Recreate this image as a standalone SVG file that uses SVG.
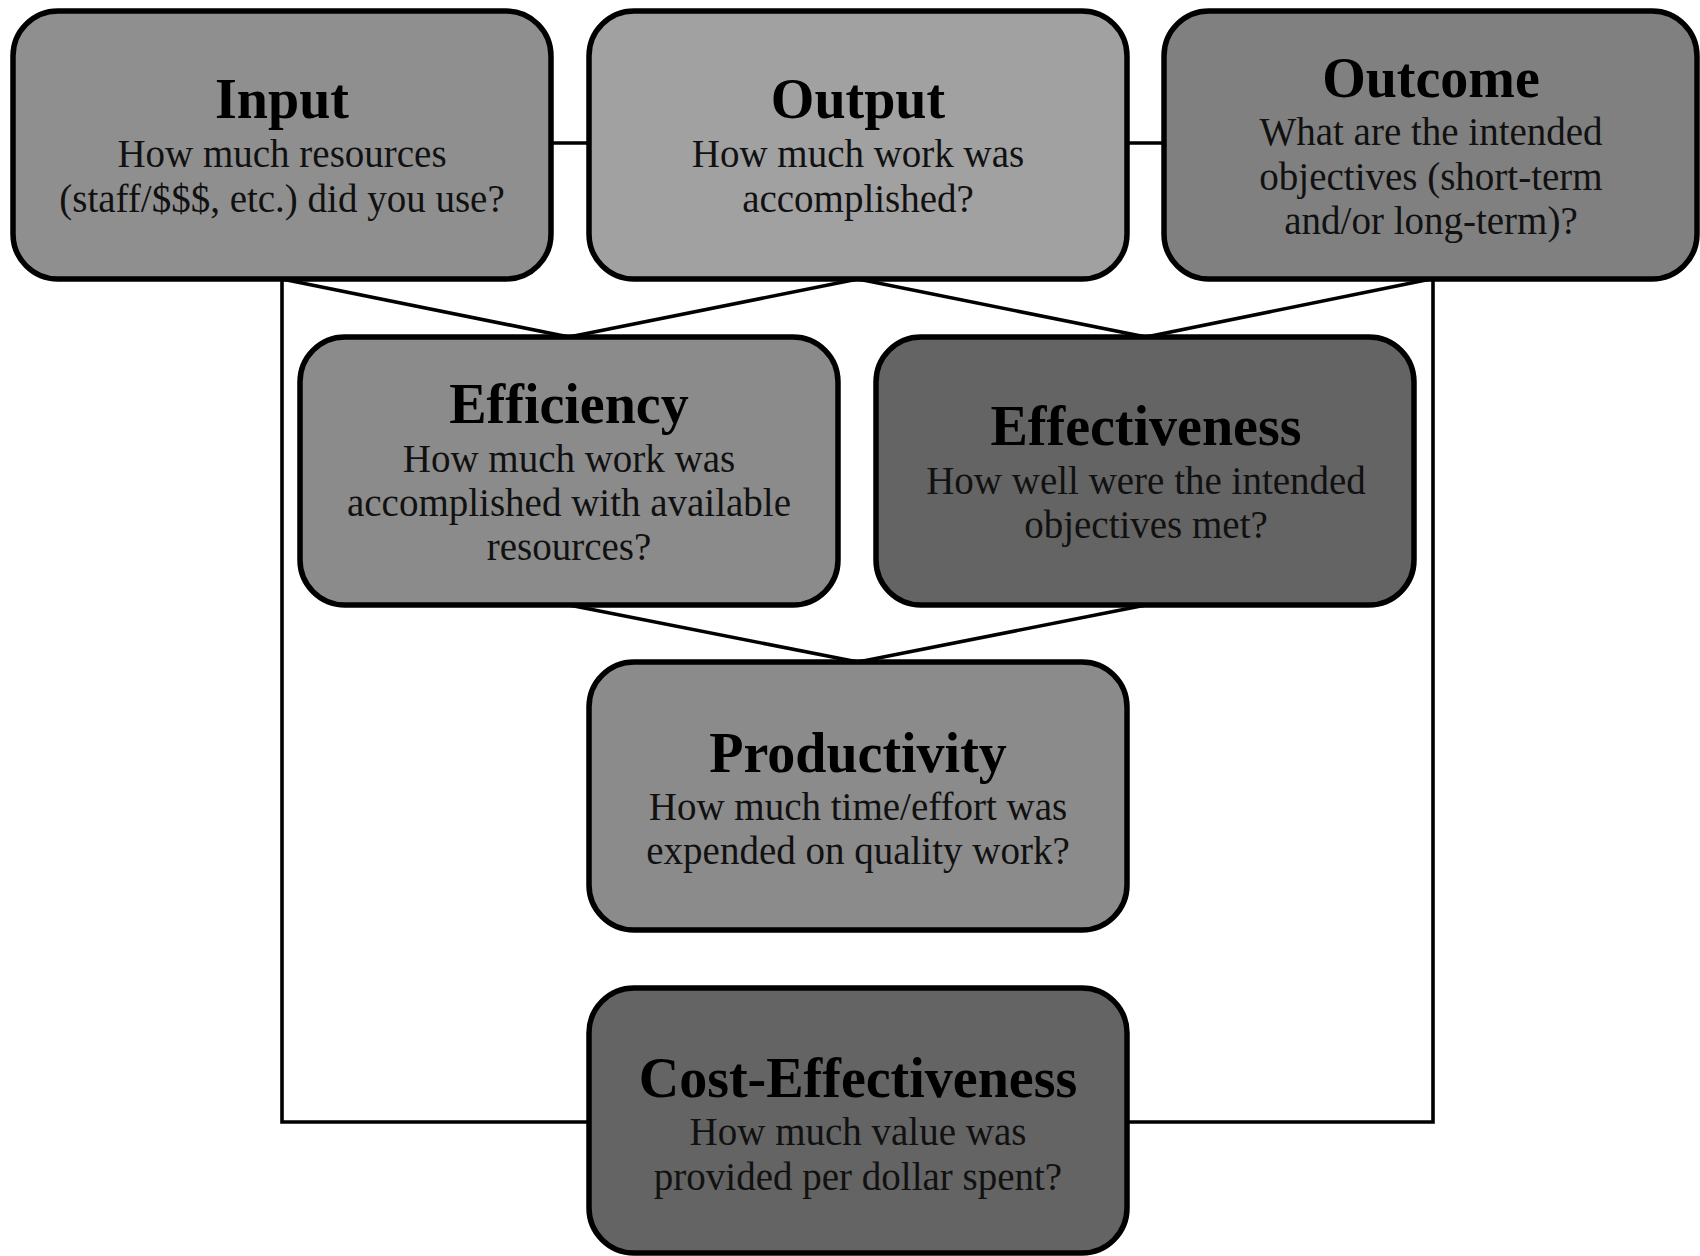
<svg xmlns="http://www.w3.org/2000/svg" width="1700" height="1256" viewBox="0 0 1700 1256">
<style>
.box{stroke:#000;stroke-width:5.5}
.t{font-family:"Liberation Serif","Times New Roman",serif;font-weight:bold;font-size:56px;fill:#000;text-anchor:middle}
.b{font-family:"Liberation Serif","Times New Roman",serif;font-size:39px;fill:#111;text-anchor:middle}
.c{fill:none;stroke:#000;stroke-width:3.6}
</style>
<rect width="1700" height="1256" fill="#fff"/>
<g id="connectors">
<line class="c" x1="551" y1="143" x2="589" y2="143"/>
<line class="c" x1="1127" y1="143" x2="1164" y2="143"/>
<line class="c" x1="282" y1="279" x2="569" y2="337"/>
<line class="c" x1="858" y1="279" x2="569" y2="337"/>
<line class="c" x1="858" y1="279" x2="1146" y2="337"/>
<line class="c" x1="1431" y1="279" x2="1146" y2="337"/>
<line class="c" x1="569" y1="605" x2="858" y2="662"/>
<line class="c" x1="1146" y1="605" x2="858" y2="662"/>
<polyline class="c" points="282,279 282,1122 589,1122"/>
<polyline class="c" points="1433,279 1433,1122 1127,1122"/>
</g>
<g id="input">
<rect class="box" x="13" y="11" width="538" height="268" rx="45" fill="#8f8f8f"/>
<text class="t" x="282" y="118">Input</text>
<text class="b" x="282" y="167">How much resources</text>
<text class="b" x="282" y="212">(staff/$$$, etc.) did you use?</text>
</g>
<g id="output">
<rect class="box" x="589" y="11" width="538" height="268" rx="45" fill="#a1a1a1"/>
<text class="t" x="858" y="118">Output</text>
<text class="b" x="858" y="167">How much work was</text>
<text class="b" x="858" y="212">accomplished?</text>
</g>
<g id="outcome">
<rect class="box" x="1164" y="11" width="533" height="268" rx="45" fill="#808080"/>
<text class="t" x="1431" y="97">Outcome</text>
<text class="b" x="1431" y="145">What are the intended</text>
<text class="b" x="1431" y="190">objectives (short-term</text>
<text class="b" x="1431" y="234">and/or long-term)?</text>
</g>
<g id="efficiency">
<rect class="box" x="300" y="337" width="538" height="268" rx="45" fill="#8b8b8b"/>
<text class="t" x="569" y="423">Efficiency</text>
<text class="b" x="569" y="472">How much work was</text>
<text class="b" x="569" y="516">accomplished with available</text>
<text class="b" x="569" y="560">resources?</text>
</g>
<g id="effectiveness">
<rect class="box" x="876" y="337" width="538" height="268" rx="45" fill="#646464"/>
<text class="t" x="1146" y="445">Effectiveness</text>
<text class="b" x="1146" y="494">How well were the intended</text>
<text class="b" x="1146" y="538">objectives met?</text>
</g>
<g id="productivity">
<rect class="box" x="589" y="662" width="538" height="268" rx="45" fill="#8b8b8b"/>
<text class="t" x="858" y="772">Productivity</text>
<text class="b" x="858" y="820">How much time/effort was</text>
<text class="b" x="858" y="864">expended on quality work?</text>
</g>
<g id="cost-effectiveness">
<rect class="box" x="589" y="988" width="538" height="265" rx="45" fill="#646464"/>
<text class="t" x="858" y="1097">Cost-Effectiveness</text>
<text class="b" x="858" y="1145">How much value was</text>
<text class="b" x="858" y="1190">provided per dollar spent?</text>
</g>
</svg>
